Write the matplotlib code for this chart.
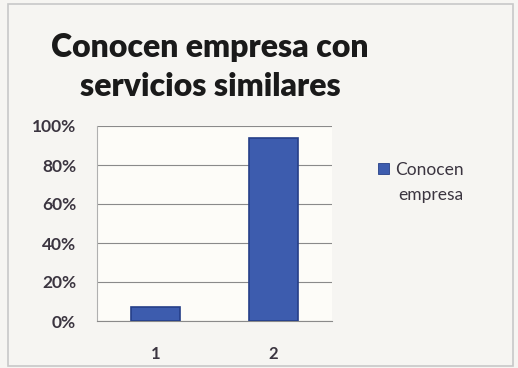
import matplotlib.pyplot as plt
from matplotlib.patches import Rectangle

categories = ['1', '2']
values = [7, 94]
title = 'Conocen empresa con\nservicios similares'
yticks = [0, 20, 40, 60, 80, 100]

W, H = 518, 368
fig = plt.figure(figsize=(W / 100, H / 100), dpi=100)
fig.patch.set_facecolor('#f6f5f2')
plt.rcParams['font.family'] = ['Lato', 'DejaVu Sans']

# outer frame
fig.add_artist(Rectangle((8 / W, 2 / H), 505 / W, 362 / H, transform=fig.transFigure,
                         fill=False, edgecolor='#c8c8c8', linewidth=1.2))

ax = fig.add_axes([97 / W, 1 - 321 / H, (332 - 97) / W, (321 - 126) / H])
ax.set_facecolor('#fdfcf8')
x = range(1, len(categories) + 1)
ax.bar(x, values, width=0.42, color='#3d5cae', edgecolor='#263f88', linewidth=1.2, zorder=3)
ax.set_xlim(0.5, 2.5)
ax.set_ylim(0, 100)
ax.set_yticks(yticks)
ax.set_yticklabels([f'{v}%' for v in yticks], fontsize=12.5, fontweight='bold', color='#3b3540')
ax.set_xticks(list(x))
ax.set_xticklabels(categories, fontsize=12, fontweight='bold', color='#3b3540')
ax.tick_params(axis='both', length=0)
ax.tick_params(axis='y', pad=15)
ax.tick_params(axis='x', pad=18)
ax.grid(axis='y', color='#8a8a8a', linewidth=0.8, zorder=0)
for side in ['top', 'right']:
    ax.spines[side].set_visible(False)
ax.spines['left'].set_color('#b0b0b0')
ax.spines['bottom'].set_color('#8a8a8a')

fig.text(210 / W, 1 - 67 / H, title, ha='center', va='center', fontsize=23,
         fontweight='heavy', color='#1a1a1a', linespacing=1.4)

# legend
fig.add_artist(Rectangle((378 / W, 1 - 174 / H), 11 / W, 11 / H, transform=fig.transFigure,
                         facecolor='#3d5cae', edgecolor='#263f88', linewidth=0.6))
fig.text(395 / W, 1 - 170 / H, 'Conocen', ha='left', va='center', fontsize=12.5,
         color='#3b3540')
fig.text(398 / W, 1 - 195 / H, 'empresa', ha='left', va='center', fontsize=12.5,
         color='#3b3540')

fig.savefig('out.png', dpi=100, facecolor=fig.get_facecolor())
